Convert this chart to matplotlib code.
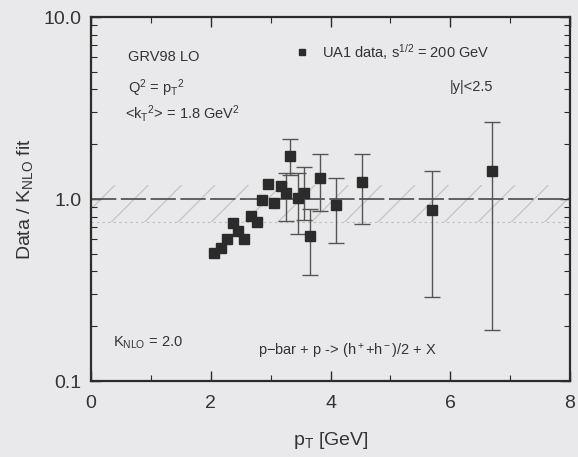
import matplotlib.pyplot as plt
import numpy as np
from matplotlib.ticker import LogLocator, NullFormatter

plt.rcParams['font.family'] = ['Liberation Sans', 'DejaVu Sans']
plt.rcParams['mathtext.fontset'] = 'custom'
plt.rcParams['mathtext.rm'] = 'Liberation Sans'
plt.rcParams['mathtext.it'] = 'Liberation Sans:italic'
plt.rcParams['hatch.linewidth'] = 0.9

# UA1 points without visible error bars
pt_low = [2.05, 2.17, 2.27, 2.37, 2.45, 2.55, 2.67, 2.77, 2.85, 2.95, 3.05, 3.17]
ratio_low = [0.505, 0.54, 0.60, 0.74, 0.67, 0.60, 0.81, 0.75, 0.99, 1.21, 0.95, 1.18]

# UA1 points with error bars (upper / lower ends of the bars)
pt_err = [3.25, 3.33, 3.45, 3.55, 3.65, 3.83, 4.1, 4.52, 5.7, 6.7]
ratio_err = [1.08, 1.72, 1.01, 1.08, 0.63, 1.30, 0.93, 1.24, 0.87, 1.43]
ratio_hi = [1.39, 2.14, 1.39, 1.50, 0.88, 1.77, 1.30, 1.77, 1.43, 2.65]
ratio_lo = [0.76, 1.35, 0.64, 0.77, 0.38, 0.86, 0.57, 0.73, 0.29, 0.19]

band_lo, band_hi = 0.75, 1.2

ink = '#2b2b2b'
paper = '#e9e9eb'

fig = plt.figure(figsize=(5.78, 4.57), dpi=100, facecolor=paper)
ax = fig.add_axes([91 / 578, 1 - 381 / 457, 479 / 578, 364 / 457])
ax.set_facecolor(paper)

ax.set_xscale('linear')
ax.set_yscale('log')
ax.set_xlim(0, 8)
ax.set_ylim(0.1, 10)

# hatched theory band and the K-factor line
ax.fill_between([0, 8], band_lo, band_hi, facecolor='none', edgecolor='#c4c4c6',
                hatch='/', linewidth=0)
ax.axhline(band_lo, color='#bdbdbd', lw=0.8, ls=(0, (2, 3)))
ax.axhline(1.0, color='#555555', lw=1.3, ls=(0, (14, 2.5)))

yerr = [np.array(ratio_err) - np.array(ratio_lo), np.array(ratio_hi) - np.array(ratio_err)]
ax.errorbar(pt_err, ratio_err, yerr=yerr, fmt='none', ecolor='#555555',
            elinewidth=1.0, capsize=6, capthick=1.0)
ax.plot(pt_low + pt_err, ratio_low + ratio_err, ls='none', marker='s',
        ms=6.5, color=ink)

ax.set_xticks([0, 2, 4, 6, 8])
ax.set_xticks([1, 3, 5, 7], minor=True)
ax.set_yticks([0.1, 1.0, 10.0])
ax.set_yticklabels(['0.1', '1.0', '10.0'])
ax.yaxis.set_minor_locator(LogLocator(base=10, subs=np.arange(2, 10)))
ax.yaxis.set_minor_formatter(NullFormatter())
ax.tick_params(which='both', direction='in', top=True, right=True,
               colors=ink, labelcolor='#333333', labelsize=14)
ax.tick_params(which='major', length=7, width=1.0, pad=7)
ax.tick_params(axis='x', which='major', pad=10)
ax.tick_params(which='minor', length=4, width=0.8)
for s in ax.spines.values():
    s.set_linewidth(1.6)
    s.set_color(ink)

ax.set_xlabel(r'p$_\mathrm{T}$ [GeV]', fontsize=14, color='#333333', labelpad=13)
ax.set_ylabel(r'Data / K$_\mathrm{NLO}$ fit', fontsize=14, color='#333333', labelpad=6)

tkw = dict(transform=ax.transAxes, fontsize=10.5, color='#333333', va='center')
ax.text(0.077, 0.89, 'GRV98 LO', **tkw)
ax.text(0.077, 0.805, r'Q$^2$ = p$_\mathrm{T}$$^2$', **tkw)
ax.text(0.071, 0.736, r'<k$_\mathrm{T}$$^2$> = 1.8 GeV$^2$', **tkw)
ax.plot([0.44], [0.904], 's', ms=5, color=ink, transform=ax.transAxes)
ax.text(0.482, 0.904, r'UA1 data, s$^{1/2}$ = 200 GeV', **tkw)
ax.text(0.749, 0.808, '|y|<2.5', **tkw)
ax.text(0.046, 0.104, r'K$_\mathrm{NLO}$ = 2.0', **tkw)
ax.text(0.349, 0.08, r'p$-$bar + p -> (h$^+$+h$^-$)/2 + X', **tkw)

fig.savefig('out.png', dpi=100, facecolor=paper)
